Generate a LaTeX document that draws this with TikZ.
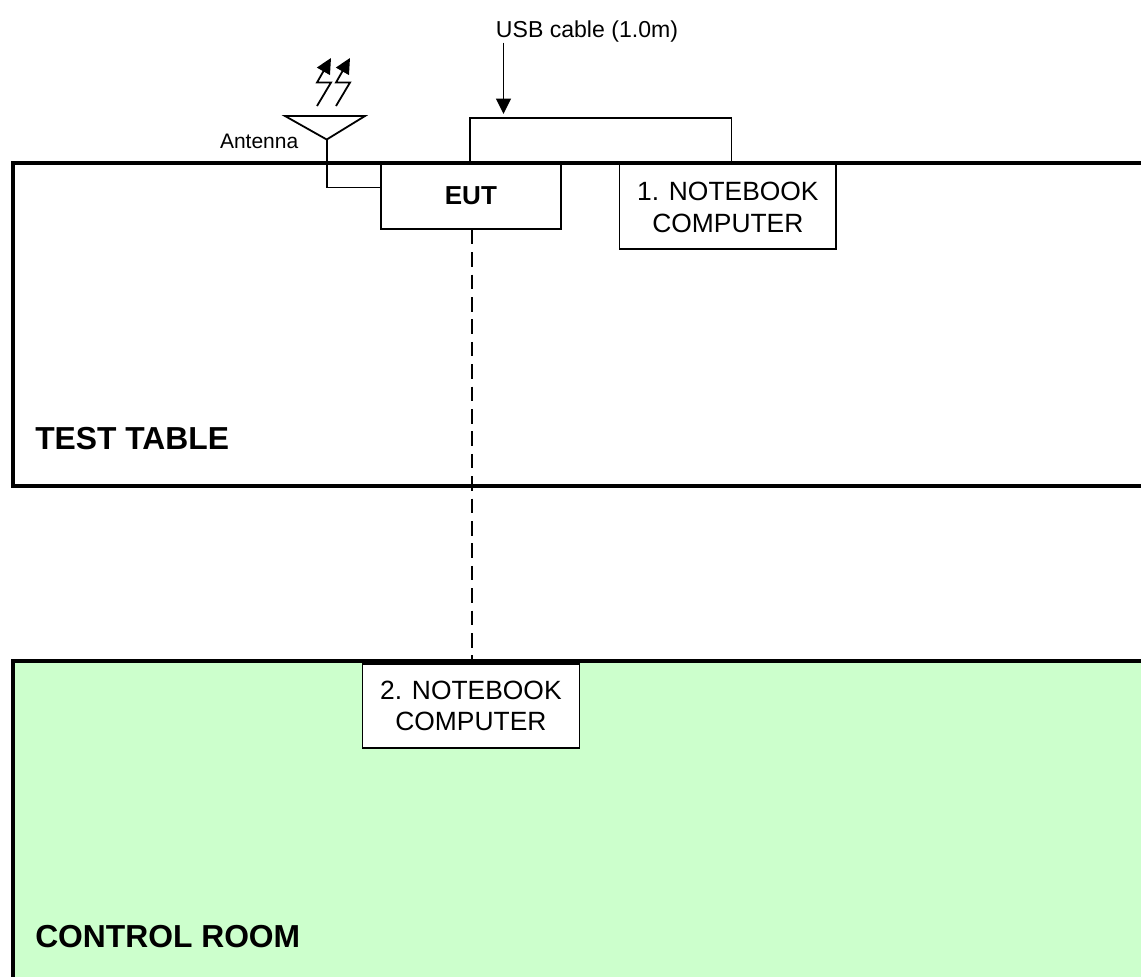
\documentclass[tikz,border=0pt]{standalone}
\usepackage{xcolor}
\usepackage{fontspec}
\setmainfont{Liberation Sans}
\usetikzlibrary{arrows.meta}
\definecolor{roomgreen}{RGB}{204,255,204}

\begin{document}
\begin{tikzpicture}[
  x=0.75pt, y=-0.75pt,
  area/.style={rectangle, draw=black, line width=3.2pt, anchor=north west, inner sep=0pt,
               minimum width=900pt},
  unit/.style={rectangle, draw=black, fill=white, line width=1.35pt, anchor=north west, inner sep=0pt,
               align=center, font=\fontsize{19.8}{23.6}\selectfont},
  label/.style={inner sep=0pt, font=\fontsize{23.85}{28}\selectfont\bfseries},
  wire/.style={draw=black, line width=1.35pt},
  arrow/.style={-{Triangle[length=11.5pt, width=11pt]}, line width=1.35pt}
]
\useasboundingbox (0,0) rectangle (1141,976);

\node[area, fill=roomgreen, minimum height=300pt] (room) at (10.6,658.9) {};
\node[unit, minimum width=162.75pt, minimum height=63pt] (pc2) at (361.5,663) {2. NOTEBOOK\\COMPUTER};
\node[unit, minimum width=135pt, minimum height=50.25pt, font=\fontsize{19.5}{23}\selectfont\bfseries] (eut) at (380,161) {EUT};
\node[unit, minimum width=162.5pt, minimum height=65.25pt] (pc1) at (618.6,161) {};
\node[inner sep=0pt, align=center, font=\fontsize{19.8}{23.6}\selectfont] (pc1text) at ([yshift=-1.5pt]pc1.center) {1. NOTEBOOK\\COMPUTER};

\coordinate (feed) at (326.7,139.5);
\coordinate (usbtop) at (503.5,114);
\coordinate (usbleft) at (470,162);
\coordinate (usbright) at (731.5,162);
\node[font=\fontsize{17.3}{20}\selectfont, inner sep=0pt] (usblabel) at (587,31.5) {USB cable (1.0m)};
\node[font=\fontsize{15.75}{18}\selectfont, inner sep=0pt, anchor=east] (antlabel) at (298.5,141.5) {Antenna};

% antenna
\draw[wire, line join=miter] (285,116) -- (365,116) -- (feed) -- cycle;
\draw[wire] (feed) |- (eut.west |- 0,187.5);
\foreach \dx in {0,19} {
  \draw[arrow] (317+\dx,106) -- (331+\dx,82.5) -- (317+\dx,82.5) -- (331+\dx,58);
}

% cables
\draw[wire] (usbleft) -- ++(0,-43.7) -| (usbright);
\draw[arrow] (usblabel.south -| usbtop) -- (usbtop);

% table border goes over the boxes
\node[area, minimum height=242.7pt] (table) at (10.9,160.6) {};
\node[label, anchor=west] (tablelabel) at (35,438.7) {TEST TABLE};
\node[label, anchor=west] (roomlabel)  at (35,936.7) {CONTROL ROOM};

\draw[wire, dash pattern=on 11pt off 5.8pt] ([xshift=0.75pt]eut.south) -- ([xshift=0.75pt]pc2.north);
\end{tikzpicture}
\end{document}
